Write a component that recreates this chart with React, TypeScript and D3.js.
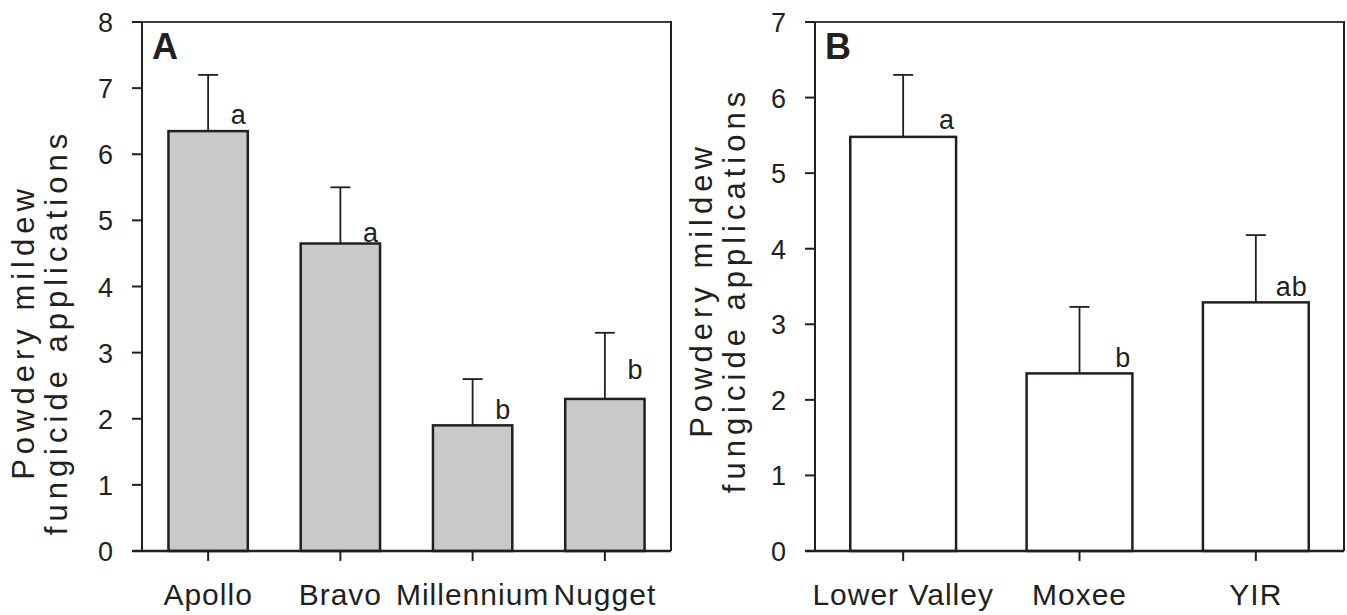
import React from 'react'
import * as d3 from 'd3'

// panel A: cultivars
const catsA = ['Apollo', 'Bravo', 'Millennium', 'Nugget']
const meansA = [6.35, 4.65, 1.9, 2.3]
const errA = [0.85, 0.85, 0.7, 1.0]
const lettersA = ['a', 'a', 'b', 'b']
const letterAtA = [6.45, 4.67, 2.0, 2.6]
const ticksA = [0, 1, 2, 3, 4, 5, 6, 7, 8]

// panel B: regions
const catsB = ['Lower Valley', 'Moxee', 'YIR']
const meansB = [5.48, 2.35, 3.29]
const errB = [0.82, 0.88, 0.89]
const lettersB = ['a', 'b', 'ab']
const letterAtB = [5.59, 2.43, 3.37]
const ticksB = [0, 1, 2, 3, 4, 5, 6, 7]

const FONT = '"Liberation Sans", Arial, Helvetica, sans-serif'
const INK = '#231f20'

type PanelProps = {
  left: number
  tag: string
  cats: string[]
  means: number[]
  errs: number[]
  letters: string[]
  letterAt: number[]
  ticks: number[]
  fill: string
  titleX: number
  titleY: number
}

function Panel({ left, tag, cats, means, errs, letters, letterAt, ticks, fill, titleX, titleY }: PanelProps) {
  const top = 22, bottom = 551, size = 529
  const right = left + size
  const x = d3.scaleBand<string>().domain(cats).range([left, right]).paddingInner(0.4).paddingOuter(0.2)
  const y = d3.scaleLinear().domain([0, d3.max(ticks) as number]).range([bottom, top])
  const bw = x.bandwidth()

  return (
    <g fontFamily={FONT} fill={INK}>
      {/* frame: top + right */}
      <line x1={left - 10} x2={right} y1={top} y2={top} stroke="#3c3a3b" strokeWidth={2} />
      <line x1={right} x2={right} y1={top - 1} y2={bottom} stroke={INK} strokeWidth={2} />

      {/* bars */}
      {cats.map((c, i) => (
        <rect key={c} x={x(c)} y={y(means[i])} width={bw} height={bottom - y(means[i])}
          fill={fill} stroke={INK} strokeWidth={2.5} />
      ))}

      {/* error bars */}
      {cats.map((c, i) => {
        const cx = (x(c) as number) + bw / 2
        const yt = y(means[i] + errs[i])
        return (
          <g key={c} stroke={INK} strokeWidth={1.8}>
            <line x1={cx} x2={cx} y1={y(means[i])} y2={yt} />
            <line x1={cx - 10} x2={cx + 10} y1={yt} y2={yt} />
          </g>
        )
      })}

      {/* letters */}
      {cats.map((c, i) => (
        <text key={c} x={(x(c) as number) + bw - 1} y={y(letterAt[i])} textAnchor="end"
          fontSize={27} letterSpacing={1} stroke="none">{letters[i]}</text>
      ))}

      {/* y axis */}
      <line x1={left} x2={left} y1={top} y2={bottom} stroke={INK} strokeWidth={2} />
      {ticks.map(t => (
        <g key={t}>
          <line x1={left - 10} x2={left} y1={y(t)} y2={y(t)} stroke={INK} strokeWidth={2} />
          <text x={left - 29} y={y(t) + 10} textAnchor="end" fontSize={27}>{t}</text>
        </g>
      ))}

      {/* x axis */}
      <line x1={left - 10} x2={right} y1={bottom} y2={bottom} stroke={INK} strokeWidth={2.5} />
      {cats.map(c => {
        const cx = (x(c) as number) + bw / 2
        return (
          <g key={c}>
            <line x1={cx} x2={cx} y1={bottom} y2={bottom + 10} stroke={INK} strokeWidth={2} />
            <text x={cx} y={605} textAnchor="middle" fontSize={30} letterSpacing={1}>{c}</text>
          </g>
        )
      })}

      {/* axis title */}
      <g transform={`translate(${titleX},${titleY}) rotate(-90)`}>
        <text x={0} y={-8} textAnchor="middle" fontSize={31} letterSpacing={5}>Powdery mildew</text>
        <text x={0} y={25} textAnchor="middle" fontSize={31} letterSpacing={5}>fungicide applications</text>
      </g>

      <text x={left + 10} y={59} fontSize={36} fontWeight="bold">{tag}</text>
    </g>
  )
}

export default function App() {
  return (
    <div style={{ position: 'absolute', left: 0, top: 0 }}>
      <svg width={1347} height={615} style={{ display: 'block', background: '#fff' }}>
        <Panel left={142} tag="A" cats={catsA} means={meansA} errs={errA} letters={lettersA}
          letterAt={letterAtA} ticks={ticksA} fill="#c8c9cb" titleX={42} titleY={332} />
        <Panel left={815} tag="B" cats={catsB} means={meansB} errs={errB} letters={lettersB}
          letterAt={letterAtB} ticks={ticksB} fill="#ffffff" titleX={720} titleY={290} />
      </svg>
    </div>
  )
}
